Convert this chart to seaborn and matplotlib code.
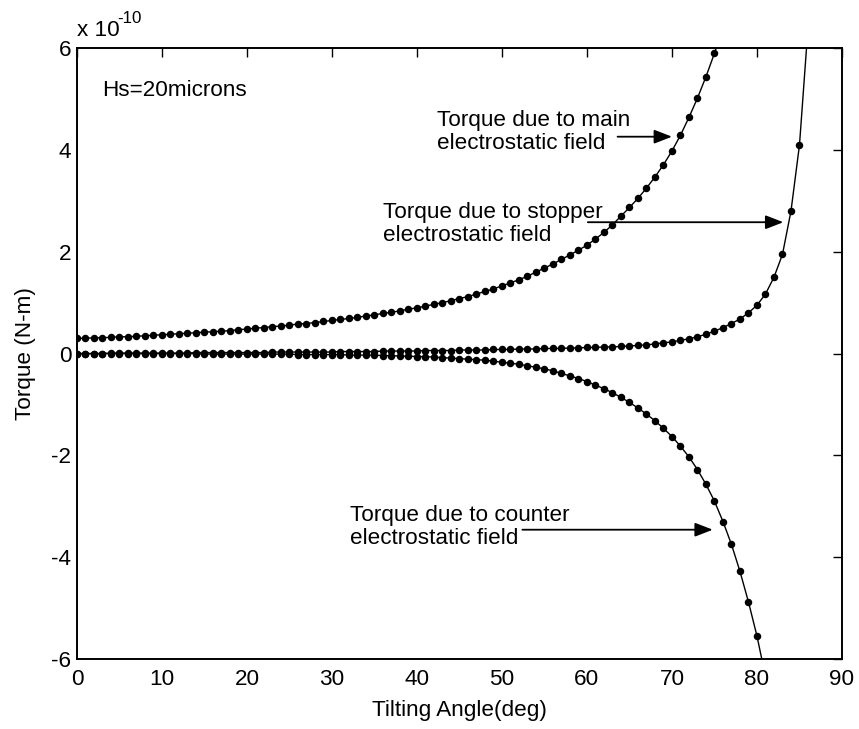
import matplotlib
matplotlib.use("Agg")
import matplotlib.pyplot as plt
import seaborn as sns
import pandas as pd

# ---- data (torque in units of 1e-10 N-m) ----
angle_main = list(range(0, 77))
torque_main = [0.30, 0.30, 0.31, 0.31, 0.32, 0.33, 0.33, 0.34, 0.35, 0.36,
               0.37, 0.38, 0.39, 0.40, 0.41, 0.42, 0.43, 0.44, 0.45, 0.47,
               0.48, 0.50, 0.51, 0.53, 0.54, 0.56, 0.58, 0.59, 0.61, 0.63,
               0.65, 0.67, 0.69, 0.71, 0.74, 0.76, 0.79, 0.81, 0.84, 0.87,
               0.90, 0.93, 0.97, 1.00, 1.04, 1.08, 1.12, 1.17, 1.22, 1.27,
               1.33, 1.39, 1.45, 1.52, 1.60, 1.68, 1.76, 1.85, 1.94, 2.03,
               2.13, 2.25, 2.38, 2.53, 2.70, 2.87, 3.05, 3.25, 3.47, 3.71,
               3.98, 4.29, 4.64, 5.02, 5.44, 5.90, 6.40]

angle_stopper = list(range(0, 87))
torque_stopper = [0.00, 0.00, 0.00, 0.00, 0.01, 0.01, 0.01, 0.01, 0.01, 0.01,
                  0.01, 0.01, 0.01, 0.01, 0.02, 0.02, 0.02, 0.02, 0.02, 0.02,
                  0.02, 0.02, 0.02, 0.03, 0.03, 0.03, 0.03, 0.03, 0.03, 0.03,
                  0.03, 0.04, 0.04, 0.04, 0.04, 0.04, 0.05, 0.05, 0.05, 0.05,
                  0.05, 0.06, 0.06, 0.06, 0.06, 0.07, 0.07, 0.07, 0.07, 0.08,
                  0.08, 0.08, 0.09, 0.09, 0.09, 0.10, 0.10, 0.10, 0.11, 0.11,
                  0.12, 0.12, 0.13, 0.13, 0.14, 0.15, 0.16, 0.17, 0.19, 0.21,
                  0.23, 0.26, 0.29, 0.33, 0.38, 0.44, 0.51, 0.59, 0.68, 0.80,
                  0.95, 1.17, 1.50, 1.95, 2.80, 4.10, 6.40]

angle_counter = list(range(0, 82))
torque_counter = [0.00, 0.00, 0.00, 0.00, 0.00, 0.00, 0.00, 0.00, 0.00, 0.00,
                  0.00, 0.00, 0.00, 0.00, 0.00, -0.01, -0.01, -0.01, -0.01, -0.01,
                  -0.01, -0.01, -0.01, -0.01, -0.01, -0.01, -0.02, -0.02, -0.02, -0.02,
                  -0.02, -0.02, -0.03, -0.03, -0.03, -0.03, -0.04, -0.04, -0.05, -0.05,
                  -0.06, -0.06, -0.07, -0.08, -0.09, -0.10, -0.11, -0.12, -0.13, -0.15,
                  -0.17, -0.19, -0.21, -0.24, -0.27, -0.30, -0.34, -0.39, -0.44, -0.49,
                  -0.55, -0.62, -0.69, -0.77, -0.86, -0.96, -1.07, -1.19, -1.32, -1.47,
                  -1.63, -1.82, -2.03, -2.28, -2.57, -2.90, -3.30, -3.75, -4.28, -4.88,
                  -5.55, -6.35]

x_ticks = [0, 10, 20, 30, 40, 50, 60, 70, 80, 90]
y_ticks = [-6, -4, -2, 0, 2, 4, 6]

labels = {
    "main": "Torque due to main\nelectrostatic field",
    "stopper": "Torque due to stopper\nelectrostatic field",
    "counter": "Torque due to counter\nelectrostatic field",
}

# ---- style ----
sns.set_theme(style="white")
plt.rcParams["font.family"] = ["Liberation Sans", "DejaVu Sans"]
FS = 16.2

fig = plt.figure(figsize=(8.59, 7.29), dpi=100)
ax = fig.add_axes([0.0896, 0.096, 0.8906, 0.838])

for xs, ys in [(angle_main, torque_main), (angle_stopper, torque_stopper),
               (angle_counter, torque_counter)]:
    df = pd.DataFrame({"angle": xs, "torque": ys})
    sns.lineplot(data=df, x="angle", y="torque", ax=ax, color="black",
                 linewidth=1.0, marker="o", markersize=5.4,
                 markeredgewidth=0, sort=False, estimator=None)

ax.set_xlim(0, 90)
ax.set_ylim(-6, 6)
ax.set_xticks(x_ticks)
ax.set_yticks(y_ticks)
ax.set_xticklabels([str(t) for t in x_ticks])
ax.set_yticklabels([str(t) for t in y_ticks])
ax.tick_params(direction="in", length=6.5, width=1.0, colors="black",
               labelsize=FS, top=True, right=True)
ax.tick_params(axis="x", pad=7.5)
ax.tick_params(axis="y", pad=4)
for s in ax.spines.values():
    s.set_color("black")
    s.set_linewidth(1.4)

ax.set_xlabel("Tilting Angle(deg)", fontsize=FS, color="black", labelpad=7)
ax.set_ylabel("Torque (N-m)", fontsize=FS, color="black", labelpad=11)

# multiplier
ax.text(0.0, 1.012, "x 10", transform=ax.transAxes, fontsize=FS,
        ha="left", va="bottom", color="black")
ax.text(0.053, 1.036, "-10", transform=ax.transAxes, fontsize=FS * 0.75,
        ha="left", va="bottom", color="black")

ax.text(3.0, 5.17, "Hs=20microns", fontsize=FS, ha="left", va="center",
        color="black")

ax.text(42.4, 4.35, labels["main"], fontsize=FS, ha="left", va="center",
        color="black", linespacing=1.1)
ax.text(36.0, 2.54, labels["stopper"], fontsize=FS, ha="left", va="center",
        color="black", linespacing=1.1)
ax.text(32.1, -3.41, labels["counter"], fontsize=FS, ha="left", va="center",
        color="black", linespacing=1.1)

arrow_kw = dict(arrowstyle="-|>,head_length=0.9,head_width=0.35",
                color="black", lw=1.3, shrinkA=0, shrinkB=0)
ax.annotate("", xy=(70.0, 4.26), xytext=(63.6, 4.26), arrowprops=arrow_kw)
ax.annotate("", xy=(83.1, 2.58), xytext=(60.1, 2.58), arrowprops=arrow_kw)
ax.annotate("", xy=(74.8, -3.46), xytext=(52.4, -3.46), arrowprops=arrow_kw)

fig.savefig("out.png", dpi=100)
